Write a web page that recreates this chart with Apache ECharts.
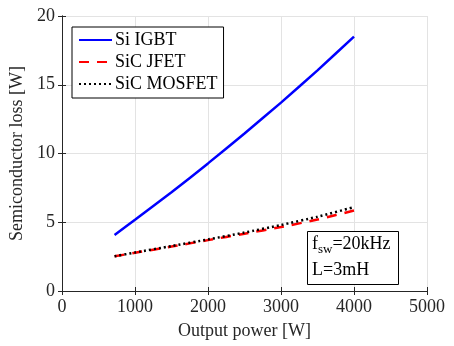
<!DOCTYPE html>
<html><head><meta charset="utf-8">
<script src="https://cdn.jsdelivr.net/npm/echarts@6/dist/echarts.min.js"></script>
<style>html,body{margin:0;padding:0;background:#fff}#c{width:454px;height:346px}</style>
</head><body><div id="c"></div>
<script>
const seriesNames = ['Si IGBT', 'SiC JFET', 'SiC MOSFET'];
const outputPower = [720, 1000, 1500, 2000, 2500, 3000, 3500, 4000];
const lossIGBT = [4.08, 5.18, 7.18, 9.28, 11.46, 13.7, 16.05, 18.5];
const lossJFET = [2.52, 2.78, 3.23, 3.7, 4.17, 4.65, 5.2, 5.85];
const lossMOSFET = [2.52, 2.8, 3.27, 3.75, 4.25, 4.8, 5.4, 6.1];
const xTickValues = [0, 1000, 2000, 3000, 4000, 5000];
const yTickValues = [0, 5, 10, 15, 20];

const FONT = '"Liberation Serif", "DejaVu Serif", serif';
const TXT = '#262626';
const pairs = (xs, ys) => xs.map((x, i) => [x, ys[i]]);

const chart = echarts.init(document.getElementById('c'));
const frameAxis = {
  axisLine: { show: true, lineStyle: { color: '#262626', width: 1 } },
  axisTick: { show: true, inside: true, length: 4, lineStyle: { color: '#262626' } },
  axisLabel: { show: false },
  splitLine: { show: false }
};
chart.setOption({
  animation: false,
  backgroundColor: '#fff',
  textStyle: { fontFamily: FONT },
  grid: { left: 62, top: 16, width: 365, height: 275, containLabel: false },
  title: {
    left: 307, top: 227,
    text: '{a|f}{b|sw}{a|=20kHz}\n{a|L=3mH}',
    borderColor: '#000', borderWidth: 1, padding: [4, 8, 6, 5],
    backgroundColor: '#fff',
    textStyle: {
      fontWeight: 'normal', fontFamily: FONT,
      rich: {
        a: { fontFamily: FONT, fontWeight: 'normal', fontSize: 18, color: '#000', lineHeight: 26 },
        b: { fontFamily: FONT, fontWeight: 'normal', fontSize: 13, color: '#000', padding: [12, 0, 0, 0] }
      }
    }
  },
  legend: {
    left: 72, top: 27, orient: 'vertical',
    data: seriesNames,
    borderColor: '#000', borderWidth: 1, backgroundColor: '#fff',
    padding: [4, 6, 5, 6],
    itemWidth: 33, itemHeight: 14, itemGap: 4,
    itemStyle: { opacity: 0 },
    textStyle: { fontFamily: FONT, fontSize: 18, color: '#000', padding: [0, 0, 0, -2] }
  },
  xAxis: [{
    type: 'value', min: 0, max: 5000, interval: 1000,
    name: 'Output power [W]', nameLocation: 'middle', nameGap: 31,
    nameTextStyle: { fontFamily: FONT, fontSize: 18, color: TXT },
    axisLine: { show: true, onZero: false, lineStyle: { color: '#262626' } },
    axisTick: { show: true, inside: true, length: 4, lineStyle: { color: '#262626' } },
    axisLabel: { fontFamily: FONT, fontSize: 18, color: TXT, margin: 7,
      formatter: v => xTickValues.includes(v) ? String(v) : '' },
    splitLine: { show: true, lineStyle: { color: '#e3e3e3', width: 1 } }
  }, Object.assign({ type: 'value', min: 0, max: 5000, interval: 1000, position: 'top' }, frameAxis)],
  yAxis: [{
    type: 'value', min: 0, max: 20, interval: 5,
    name: 'Semiconductor loss [W]', nameLocation: 'middle', nameGap: 32,
    nameTextStyle: { fontFamily: FONT, fontSize: 18, color: TXT },
    axisLine: { show: true, onZero: false, lineStyle: { color: '#262626' } },
    axisTick: { show: true, inside: true, length: 4, lineStyle: { color: '#262626' } },
    axisLabel: { fontFamily: FONT, fontSize: 18, color: TXT, margin: 7,
      formatter: v => yTickValues.includes(v) ? String(v) : '' },
    splitLine: { show: true, lineStyle: { color: '#e3e3e3', width: 1 } }
  }, Object.assign({ type: 'value', min: 0, max: 20, interval: 5, position: 'right' }, frameAxis)],
  series: [
    { name: seriesNames[0], type: 'line', symbol: 'none', smooth: 0.2, data: pairs(outputPower, lossIGBT),
      lineStyle: { color: '#0000ff', width: 2.5 }, itemStyle: { color: '#0000ff' } },
    { name: seriesNames[1], type: 'line', symbol: 'none', smooth: 0.2, data: pairs(outputPower, lossJFET),
      lineStyle: { color: '#ff0000', width: 2.5, type: [10, 8] }, itemStyle: { color: '#ff0000' } },
    { name: seriesNames[2], type: 'line', symbol: 'none', smooth: 0.2, data: pairs(outputPower, lossMOSFET),
      lineStyle: { color: '#000000', width: 2.5, type: [2, 3] }, itemStyle: { color: '#000000' } }
  ]
});
</script></body></html>
